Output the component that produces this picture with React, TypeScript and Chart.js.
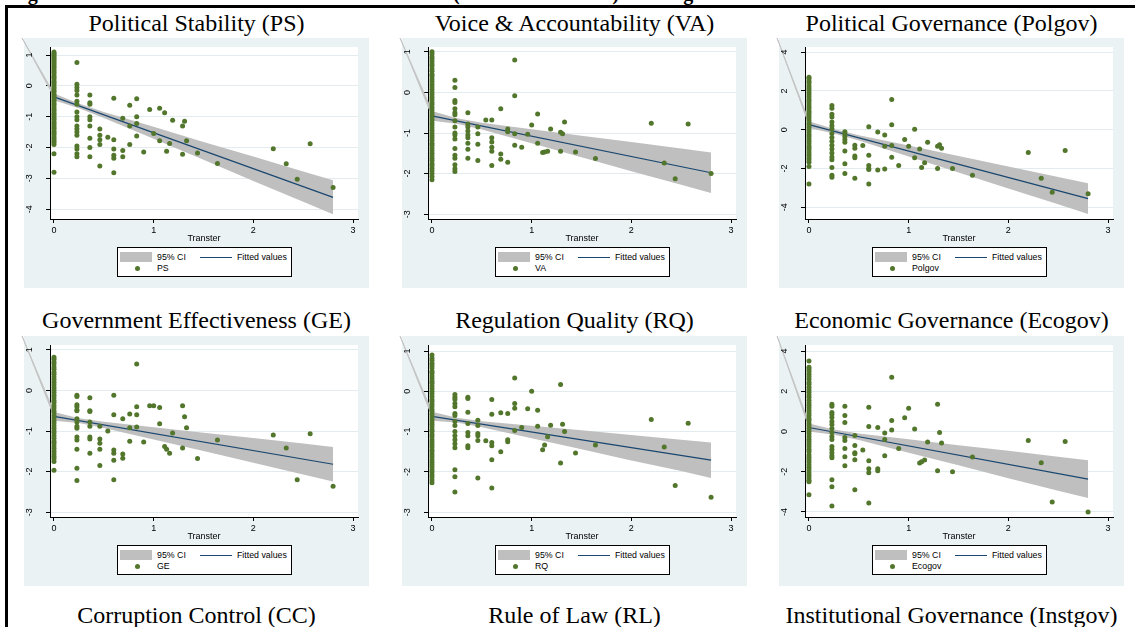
import React, { useEffect, useRef } from 'react';
import { Chart, registerables } from 'chart.js';

Chart.register(...registerables);

// ---------------- data ----------------
const transferTicks = [0, 1, 2, 3];
const fitX = [0, 2.8];
const ciX = [0, 0.25, 0.5, 1, 1.5, 2, 2.5, 2.8];

type Group = [number, number[]];

// Political Stability (PS)
const psGroups: Group[] = [
  [0, [1.1, 1.05, 1.01, 0.96, 0.9, 0.86, 0.8, 0.74, 0.69, 0.63, 0.58, 0.51, 0.46, 0.4, 0.33, 0.28, 0.22, 0.15, 0.1, 0.04, -0.03, -0.08, -0.15, -0.2, -0.27, -0.33, -0.38, -0.45, -0.5, -0.57, -0.62, -0.69, -0.75, -0.8, -0.87, -0.92, -0.99, -1.05, -1.1, -1.17, -1.22, -1.29, -1.35, -1.4, -1.47, -1.53, -1.58, -1.65, -1.71, -1.77, -1.83, -1.9, -2.2, -2.8]],
  [0.23, [0.76, 0.05, -0.05, -0.15, -0.3, -0.5, -0.6, -0.85, -1.0, -1.1, -1.3, -1.4, -1.5, -1.6, -1.95, -2.05, -2.2, -2.3]],
  [0.36, [-0.3, -0.55, -0.6, -1.0, -1.1, -1.3, -1.7, -2.0, -2.3]],
  [0.46, [-1.4, -1.6, -1.75, -1.9, -2.6]],
  [0.54, [-1.67]],
  [0.6, [-0.4, -1.75, -2.05, -2.25, -2.35, -2.82]],
  [0.69, [-1.05, -2.1, -2.3]],
  [0.76, [-0.63, -1.3, -1.9]],
  [0.83, [-0.42, -1.0, -1.22, -1.63]],
  [0.9, [-2.15]],
  [0.96, [-0.77]],
  [1.0, [-1.55]],
  [1.06, [-0.73, -1.78]],
  [1.11, [-0.87]],
  [1.13, [-2.12]],
  [1.16, [-1.87]],
  [1.19, [-1.12]],
  [1.29, [-1.3, -2.22]],
  [1.31, [-1.15]],
  [1.33, [-1.78]],
  [1.44, [-2.18]],
  [1.64, [-2.52]],
  [2.2, [-2.04]],
  [2.33, [-2.53]],
  [2.44, [-3.03]],
  [2.57, [-1.88]],
  [2.8, [-3.3]],
];
const psFit = [-0.36, -3.62];
const psCiUpper = [-0.25, -0.57, -0.85, -1.33, -1.82, -2.29, -2.78, -3.06];
const psCiLower = [-0.47, -0.73, -1.04, -1.72, -2.4, -3.09, -3.76, -4.17];
const psYTicks = [1, 0, -1, -2, -3, -4];
const psWedge = [-0.32, 1.55];

// Voice & Accountability (VA)
const vaGroups: Group[] = [
  [0, [1.0, 0.95, 0.88, 0.83, 0.77, 0.7, 0.65, 0.58, 0.52, 0.45, 0.4, 0.33, 0.27, 0.2, 0.14, 0.08, 0.01, -0.05, -0.12, -0.18, -0.25, -0.3, -0.37, -0.43, -0.5, -0.56, -0.62, -0.68, -0.75, -0.8, -0.87, -0.93, -1.0, -1.06, -1.12, -1.18, -1.25, -1.3, -1.37, -1.43, -1.5, -1.56, -1.62, -1.68, -1.75, -1.8, -1.87, -1.93, -2.0, -2.07, -2.15]],
  [0.23, [0.3, 0.12, -0.2, -0.25, -0.4, -0.5, -0.55, -0.7, -0.85, -1.0, -1.05, -1.15, -1.38, -1.55, -1.62, -1.78, -1.88, -1.95]],
  [0.36, [-0.5, -0.78, -0.85, -0.95, -1.05, -1.12, -1.25, -1.4, -1.62]],
  [0.46, [-0.85, -1.02, -1.28, -1.68]],
  [0.54, [-0.68]],
  [0.6, [-0.68, -1.12, -1.22, -1.35, -1.45, -1.8]],
  [0.69, [-0.4, -1.52, -1.65]],
  [0.76, [-0.9, -0.97, -1.72]],
  [0.83, [0.8, -0.08, -1.02, -1.3]],
  [0.9, [-1.35]],
  [0.96, [-1.03]],
  [1.0, [-0.8]],
  [1.06, [-0.53, -1.25]],
  [1.11, [-1.48]],
  [1.13, [-1.47]],
  [1.16, [-1.45]],
  [1.19, [-0.9]],
  [1.29, [-0.98, -1.45]],
  [1.31, [-1.02]],
  [1.33, [-0.73]],
  [1.44, [-1.47]],
  [1.64, [-1.63]],
  [2.2, [-0.76]],
  [2.33, [-1.74]],
  [2.44, [-2.13]],
  [2.57, [-0.78]],
  [2.8, [-2.0]],
];
const vaFit = [-0.58, -1.98];
const vaCiUpper = [-0.46, -0.635, -0.745, -0.905, -1.065, -1.22, -1.385, -1.48];
const vaCiLower = [-0.7, -0.775, -0.915, -1.255, -1.595, -1.94, -2.275, -2.48];
const vaYTicks = [1, 0, -1, -2, -3];
const vaWedge = [-0.32, 1.34];

// Political Governance (Polgov)
const pgGroups: Group[] = [
  [0, [2.7, 2.62, 2.5, 2.4, 2.27, 2.15, 2.05, 1.92, 1.8, 1.68, 1.55, 1.45, 1.32, 1.2, 1.08, 0.95, 0.85, 0.72, 0.6, 0.48, 0.35, 0.25, 0.12, 0.0, -0.12, -0.25, -0.35, -0.48, -0.6, -0.72, -0.85, -0.95, -1.08, -1.2, -1.32, -1.45, -1.55, -1.68, -1.9, -2.8]],
  [0.23, [1.25, 1.1, 0.8, 0.65, 0.4, 0.2, 0.05, -0.2, -0.4, -0.6, -0.8, -1.0, -1.2, -1.4, -1.55, -1.95, -2.35, -2.45]],
  [0.36, [-0.1, -0.2, -0.35, -0.5, -0.65, -1.1, -1.75, -2.25]],
  [0.46, [-0.8, -0.95, -1.35, -1.45, -2.5]],
  [0.54, [-0.82]],
  [0.6, [0.15, -1.32, -1.85, -2.0, -2.05, -2.8]],
  [0.69, [-0.12, -2.08]],
  [0.76, [-0.27, -0.85, -2.03]],
  [0.83, [1.55, 0.25, -0.82, -1.42]],
  [0.9, [-1.85]],
  [0.96, [-0.5]],
  [1.0, [-0.85]],
  [1.06, [0.02, -1.45]],
  [1.11, [-1.0]],
  [1.13, [-1.95]],
  [1.16, [-1.7]],
  [1.19, [-0.65]],
  [1.29, [-0.85, -2.0]],
  [1.31, [-0.78]],
  [1.33, [-0.95]],
  [1.44, [-2.0]],
  [1.64, [-2.35]],
  [2.2, [-1.17]],
  [2.33, [-2.5]],
  [2.44, [-3.22]],
  [2.57, [-1.07]],
  [2.8, [-3.3]],
];
const pgFit = [0.26, -3.55];
const pgCiUpper = [0.43, 0.03, -0.285, -0.82, -1.36, -1.89, -2.44, -2.76];
const pgCiLower = [0.09, -0.19, -0.555, -1.38, -2.2, -3.03, -3.84, -4.34];
const pgYTicks = [4, 2, 0, -2, -4];
const pgWedge = [-0.32, 4.72];

// Government Effectiveness (GE)
const geGroups: Group[] = [
  [0, [0.82, 0.77, 0.7, 0.65, 0.58, 0.52, 0.45, 0.4, 0.33, 0.27, 0.2, 0.14, 0.07, 0.01, -0.05, -0.12, -0.18, -0.25, -0.3, -0.37, -0.43, -0.5, -0.55, -0.62, -0.68, -0.75, -0.8, -0.87, -0.93, -1.0, -1.05, -1.12, -1.18, -1.25, -1.3, -1.37, -1.43, -1.5, -1.56, -1.62, -1.68, -1.75, -1.97]],
  [0.23, [-0.12, -0.15, -0.35, -0.4, -0.48, -0.5, -0.7, -0.78, -0.88, -0.93, -1.15, -1.22, -1.45, -1.92, -2.22]],
  [0.36, [-0.18, -0.5, -0.52, -0.78, -0.88, -1.15, -1.2, -1.55]],
  [0.46, [-0.88, -1.2, -1.3, -1.45, -1.85]],
  [0.54, [-1.0]],
  [0.6, [-0.12, -0.6, -1.47, -1.55, -1.72, -2.2]],
  [0.69, [-0.7, -1.57, -1.67]],
  [0.76, [-0.58, -0.92, -1.25]],
  [0.83, [0.65, -0.4, -0.6, -0.9]],
  [0.9, [-1.27]],
  [0.96, [-0.38]],
  [1.0, [-0.38]],
  [1.06, [-0.42, -0.82]],
  [1.11, [-1.38]],
  [1.13, [-1.45]],
  [1.16, [-1.55]],
  [1.19, [-1.05]],
  [1.29, [-0.38, -1.42]],
  [1.31, [-0.65]],
  [1.33, [-0.92]],
  [1.44, [-1.68]],
  [1.64, [-1.22]],
  [2.2, [-1.1]],
  [2.33, [-1.42]],
  [2.44, [-2.2]],
  [2.57, [-1.07]],
  [2.8, [-2.36]],
];
const geFit = [-0.64, -1.82];
const geCiUpper = [-0.53, -0.685, -0.775, -0.91, -1.045, -1.175, -1.31, -1.395];
const geCiLower = [-0.75, -0.805, -0.925, -1.21, -1.495, -1.785, -2.07, -2.245];
const geYTicks = [1, 0, -1, -2, -3];
const geWedge = [-0.32, 1.34];

// Regulation Quality (RQ)
const rqGroups: Group[] = [
  [0, [0.9, 0.83, 0.77, 0.7, 0.64, 0.58, 0.5, 0.45, 0.38, 0.32, 0.25, 0.2, 0.13, 0.07, 0.0, -0.06, -0.13, -0.2, -0.25, -0.32, -0.38, -0.45, -0.5, -0.57, -0.63, -0.7, -0.76, -0.82, -0.88, -0.95, -1.0, -1.07, -1.13, -1.2, -1.26, -1.32, -1.38, -1.45, -1.5, -1.57, -1.63, -1.7, -1.76, -1.82, -1.88, -1.95, -2.0, -2.07, -2.13, -2.2, -2.27]],
  [0.23, [-0.08, -0.15, -0.2, -0.3, -0.38, -0.55, -0.6, -0.75, -0.85, -1.0, -1.1, -1.2, -1.3, -1.4, -1.95, -2.12, -2.5]],
  [0.36, [-0.15, -0.18, -0.52, -0.8, -1.02, -1.1, -1.35, -1.4]],
  [0.46, [-0.72, -0.85, -1.05, -1.1, -1.22, -2.15]],
  [0.54, [-1.23]],
  [0.6, [-0.2, -0.57, -1.27, -1.35, -1.7, -2.4]],
  [0.69, [-0.53, -1.5]],
  [0.76, [-0.55, -1.2, -1.25]],
  [0.83, [0.33, -0.3, -0.42, -0.97]],
  [0.9, [-0.9]],
  [0.96, [-0.43]],
  [1.0, [0.0]],
  [1.06, [-0.47, -0.87]],
  [1.11, [-1.45]],
  [1.13, [-1.33]],
  [1.16, [-1.13]],
  [1.19, [-0.84]],
  [1.29, [0.17, -1.78]],
  [1.31, [-0.82]],
  [1.33, [-1.0]],
  [1.44, [-1.53]],
  [1.64, [-1.33]],
  [2.2, [-0.7]],
  [2.33, [-1.38]],
  [2.44, [-2.34]],
  [2.57, [-0.79]],
  [2.8, [-2.63]],
];
const rqFit = [-0.62, -1.71];
const rqCiUpper = [-0.51, -0.657, -0.74, -0.855, -0.965, -1.085, -1.2, -1.27];
const rqCiLower = [-0.73, -0.777, -0.89, -1.165, -1.435, -1.715, -1.98, -2.15];
const rqYTicks = [1, 0, -1, -2, -3];
const rqWedge = [-0.32, 1.37];

// Economic Governance (Ecogov)
const egGroups: Group[] = [
  [0, [3.5, 3.2, 3.1, 2.98, 2.85, 2.72, 2.6, 2.45, 2.35, 2.2, 2.08, 1.95, 1.82, 1.7, 1.55, 1.42, 1.3, 1.18, 1.05, 0.92, 0.8, 0.65, 0.55, 0.4, 0.28, 0.15, 0.02, -0.1, -0.25, -0.38, -0.5, -0.62, -0.75, -0.88, -1.0, -1.15, -1.28, -1.4, -1.52, -1.65, -1.78, -1.9, -2.05, -2.18, -2.3, -2.42, -2.5, -3.15]],
  [0.23, [1.35, 1.25, 0.95, 0.85, 0.7, 0.5, 0.35, 0.15, -0.05, -0.25, -0.4, -0.75, -0.9, -1.05, -1.2, -1.3, -2.4, -2.75, -3.7]],
  [0.36, [1.25, 0.8, 0.45, -0.3, -0.45, -0.85, -1.25, -1.7]],
  [0.46, [-0.2, -0.7, -1.05, -1.1, -1.4, -2.9]],
  [0.54, [-0.92]],
  [0.6, [1.2, 0.25, -1.45, -1.85, -2.05, -3.55]],
  [0.69, [0.2, -1.85, -1.95]],
  [0.76, [-0.07, -0.4, -1.2]],
  [0.83, [2.7, 0.55, 0.08]],
  [0.9, [-0.85]],
  [0.96, [0.68]],
  [1.0, [1.15]],
  [1.06, [0.13]],
  [1.11, [-1.57]],
  [1.13, [-1.5]],
  [1.16, [-1.42]],
  [1.19, [-0.52]],
  [1.29, [1.35, -1.95]],
  [1.31, [-0.05]],
  [1.33, [-0.57]],
  [1.44, [-2.0]],
  [1.64, [-1.27]],
  [2.2, [-0.45]],
  [2.33, [-1.55]],
  [2.44, [-3.5]],
  [2.57, [-0.5]],
  [2.8, [-4.0]],
];
const egFit = [0.2, -2.37];
const egCiUpper = [0.4, 0.1, -0.1, -0.39, -0.68, -0.96, -1.26, -1.43];
const egCiLower = [0.0, -0.16, -0.42, -1.05, -1.68, -2.32, -2.94, -3.31];
const egYTicks = [4, 2, 0, -2, -4];
const egWedge = [-0.32, 4.75];

const bottomTitles = ['Corruption Control (CC)', 'Rule of Law (RL)', 'Institutional Governance (Instgov)'];

// ---------------- styling / layout ----------------
const GREEN = '#52762B';
const NAVY = '#1A476F';
const BAND = '#BFBFBF';
const GRAPH_BG = '#EAF2F3';
const GRID = '#E2EBED';
const SANS = '"Liberation Sans", Arial, Helvetica, sans-serif';
const SERIF = '"Liberation Serif", "Times New Roman", Times, serif';

const colLeft = [24, 402, 779];
const rowTop = [38, 336];
const titleBaseline = [31, 328, 623];
const BG_W = 345;
const BG_H = 250;
const M = 6;
const X_MIN = -0.04;
const X_MAX = 3.05;

type Panel = {
  title: string;
  label: string;
  groups: Group[];
  fit: number[];
  ciU: number[];
  ciL: number[];
  yTicks: number[];
  yMin: number;
  yMax: number;
  wedge: number[];
};

const panels: Panel[] = [
  { title: 'Political Stability (PS)', label: 'PS', groups: psGroups, fit: psFit, ciU: psCiUpper, ciL: psCiLower, yTicks: psYTicks, yMin: -4.32, yMax: 1.26, wedge: psWedge },
  { title: 'Voice & Accountability (VA)', label: 'VA', groups: vaGroups, fit: vaFit, ciU: vaCiUpper, ciL: vaCiLower, yTicks: vaYTicks, yMin: -3.12, yMax: 1.12, wedge: vaWedge },
  { title: 'Political Governance (Polgov)', label: 'Polgov', groups: pgGroups, fit: pgFit, ciU: pgCiUpper, ciL: pgCiLower, yTicks: pgYTicks, yMin: -4.6, yMax: 4.26, wedge: pgWedge },
  { title: 'Government Effectiveness (GE)', label: 'GE', groups: geGroups, fit: geFit, ciU: geCiUpper, ciL: geCiLower, yTicks: geYTicks, yMin: -3.12, yMax: 1.12, wedge: geWedge },
  { title: 'Regulation Quality (RQ)', label: 'RQ', groups: rqGroups, fit: rqFit, ciU: rqCiUpper, ciL: rqCiLower, yTicks: rqYTicks, yMin: -3.12, yMax: 1.15, wedge: rqWedge },
  { title: 'Economic Governance (Ecogov)', label: 'Ecogov', groups: egGroups, fit: egFit, ciU: egCiUpper, ciL: egCiLower, yTicks: egYTicks, yMin: -4.25, yMax: 4.3, wedge: egWedge },
];

function PanelChart({ p }: { p: Panel }) {
  const ref = useRef<HTMLCanvasElement | null>(null);
  useEffect(() => {
    if (!ref.current) return;
    const points = p.groups.flatMap(([x, ys]) => ys.map((y) => ({ x, y })));
    const decor = {
      id: 'stataDecor',
      beforeDraw(chart: any) {
        const { ctx, chartArea } = chart;
        ctx.save();
        ctx.fillStyle = '#FFFFFF';
        ctx.fillRect(chartArea.left, chartArea.top, chartArea.right - chartArea.left, chartArea.bottom - chartArea.top);
        ctx.restore();
      },
      beforeDatasetsDraw(chart: any) {
        const { ctx } = chart;
        const xs = chart.scales.x;
        const ys = chart.scales.y;
        const cx = xs.getPixelForValue(p.wedge[0]);
        const cy = ys.getPixelForValue(p.wedge[1]);
        const bx = xs.getPixelForValue(ciX[0]);
        const uy = ys.getPixelForValue(p.ciU[0]);
        const my = ys.getPixelForValue(p.fit[0]);
        ctx.save();
        ctx.beginPath();
        ctx.moveTo(cx, cy);
        ctx.lineTo(bx, uy);
        ctx.lineTo(bx, my);
        ctx.closePath();
        ctx.fillStyle = '#C4C4C4';
        ctx.fill();
        ctx.strokeStyle = '#C4C4C4';
        ctx.lineWidth = 1;
        ctx.stroke();
        ctx.restore();
      },
      afterDraw(chart: any) {
        const { ctx, chartArea } = chart;
        const ys = chart.scales.y;
        ctx.save();
        ctx.fillStyle = '#000';
        ctx.font = `9px ${SANS}`;
        ctx.textAlign = 'center';
        ctx.textBaseline = 'middle';
        for (const v of p.yTicks) {
          const py = ys.getPixelForValue(v);
          ctx.save();
          ctx.translate(chartArea.left - 20, py);
          ctx.rotate(-Math.PI / 2);
          ctx.fillText(String(v), 0, 0);
          ctx.restore();
        }
        ctx.fillText('Transter', (chartArea.left + chartArea.right) / 2, chartArea.bottom + 20);
        ctx.restore();
      },
    };
    const chart = new Chart(ref.current, {
      type: 'scatter',
      data: {
        datasets: [
          {
            type: 'scatter',
            label: p.label,
            data: points,
            pointRadius: 2.5,
            pointBackgroundColor: GREEN,
            pointBorderColor: GREEN,
            pointBorderWidth: 0,
            order: 0,
          } as any,
          {
            type: 'line',
            label: 'Fitted values',
            data: fitX.map((x, i) => ({ x, y: p.fit[i] })),
            borderColor: NAVY,
            borderWidth: 1.2,
            pointRadius: 0,
            fill: false,
            order: 1,
          } as any,
          {
            type: 'line',
            label: '95% CI',
            data: ciX.map((x, i) => ({ x, y: p.ciU[i] })),
            borderColor: BAND,
            borderWidth: 0,
            backgroundColor: BAND,
            pointRadius: 0,
            fill: '+1',
            order: 2,
          } as any,
          {
            type: 'line',
            label: '95% CI lower',
            data: ciX.map((x, i) => ({ x, y: p.ciL[i] })),
            borderColor: BAND,
            borderWidth: 0,
            pointRadius: 0,
            fill: false,
            order: 3,
          } as any,
        ],
      },
      options: {
        animation: false,
        responsive: false,
        maintainAspectRatio: false,
        events: [],
        layout: { padding: { left: 6, top: 15, right: 17, bottom: 0 } },
        plugins: { legend: { display: false }, tooltip: { enabled: false } },
        scales: {
          x: {
            type: 'linear',
            position: 'bottom',
            min: X_MIN,
            max: X_MAX,
            afterBuildTicks: (s: any) => {
              s.ticks = transferTicks.map((v) => ({ value: v }));
            },
            afterFit: (s: any) => {
              s.height = 75;
            },
            grid: { drawOnChartArea: false, drawTicks: true, tickLength: 4, tickColor: '#000', tickWidth: 1 },
            border: { display: true, color: '#000', width: 1 },
            ticks: { padding: 2, color: '#000', font: { family: SANS, size: 9 }, maxRotation: 0, minRotation: 0, autoSkip: false },
          },
          y: {
            type: 'linear',
            min: p.yMin,
            max: p.yMax,
            afterBuildTicks: (s: any) => {
              s.ticks = p.yTicks.map((v) => ({ value: v }));
            },
            afterFit: (s: any) => {
              s.width = 26;
            },
            grid: { color: GRID, lineWidth: 1, drawTicks: true, tickLength: 4, tickColor: '#000', tickWidth: 1 },
            border: { display: true, color: '#000', width: 1 },
            ticks: { display: false },
          },
        },
      } as any,
      plugins: [decor],
    });
    return () => chart.destroy();
  }, [p]);

  return (
    <canvas
      ref={ref}
      width={BG_W + 2 * M}
      height={BG_H + 2 * M}
      style={{ position: 'absolute', left: -M, top: -M, width: BG_W + 2 * M, height: BG_H + 2 * M, display: 'block' }}
    />
  );
}

function Legend({ label }: { label: string }) {
  const txt: React.CSSProperties = {
    position: 'absolute',
    fontFamily: SANS,
    fontSize: 8.8,
    lineHeight: '10px',
    color: '#000',
    whiteSpace: 'nowrap',
  };
  return (
    <div
      style={{
        position: 'absolute',
        left: 93,
        top: 209,
        width: 173,
        height: 28,
        border: '1px solid #000',
        background: '#FFFFFF',
      }}
    >
      <div style={{ position: 'absolute', left: 2, top: 4, width: 32, height: 10, background: BAND }} />
      <div style={{ ...txt, left: 39, top: 4 }}>95% CI</div>
      <div style={{ position: 'absolute', left: 82, top: 8.5, width: 32, height: 1.2, background: NAVY }} />
      <div style={{ ...txt, left: 119, top: 4 }}>Fitted values</div>
      <div style={{ position: 'absolute', left: 16.5, top: 17.5, width: 5, height: 5, borderRadius: '50%', background: GREEN }} />
      <div style={{ ...txt, left: 39, top: 15 }}>{label}</div>
    </div>
  );
}

function Title({ text, left, baseline }: { text: string; left: number; baseline: number }) {
  return (
    <div
      style={{
        position: 'absolute',
        left,
        top: baseline - 20.1,
        width: BG_W,
        textAlign: 'center',
        fontFamily: SERIF,
        fontSize: 24,
        lineHeight: '24px',
        color: '#000',
        whiteSpace: 'nowrap',
      }}
    >
      {text}
    </div>
  );
}

export default function App() {
  const head: React.CSSProperties = {
    position: 'absolute',
    top: -17,
    fontFamily: SERIF,
    fontWeight: 'bold',
    fontSize: 20,
    lineHeight: '20px',
    color: '#000',
    whiteSpace: 'nowrap',
  };
  return (
    <div
      style={{
        position: 'absolute',
        left: 0,
        top: 0,
        width: 1135,
        height: 627,
        overflow: 'hidden',
        background: '#FFFFFF',
      }}
    >
      <div style={{ ...head, left: 10 }}>Figure 3: Fitted Line of Internal Transfer</div>
      <div style={{ ...head, left: 453 }}>(Remittance Flows)</div>
      <div style={{ ...head, left: 646 }}>and governance</div>
      <div style={{ position: 'absolute', left: 5, top: 5, width: 1130, height: 2.5, background: '#000' }} />
      <div style={{ position: 'absolute', left: 5, top: 5, width: 2.5, height: 622, background: '#000' }} />

      {panels.map((p, i) => {
        const col = i % 3;
        const row = Math.floor(i / 3);
        return (
          <React.Fragment key={p.label}>
            <Title text={p.title} left={colLeft[col]} baseline={titleBaseline[row]} />
            <div
              style={{
                position: 'absolute',
                left: colLeft[col],
                top: rowTop[row],
                width: BG_W,
                height: BG_H,
                background: GRAPH_BG,
              }}
            >
              <PanelChart p={p} />
              <Legend label={p.label} />
            </div>
          </React.Fragment>
        );
      })}
      {bottomTitles.map((t, i) => (
        <Title key={t} text={t} left={colLeft[i]} baseline={titleBaseline[2]} />
      ))}
    </div>
  );
}
